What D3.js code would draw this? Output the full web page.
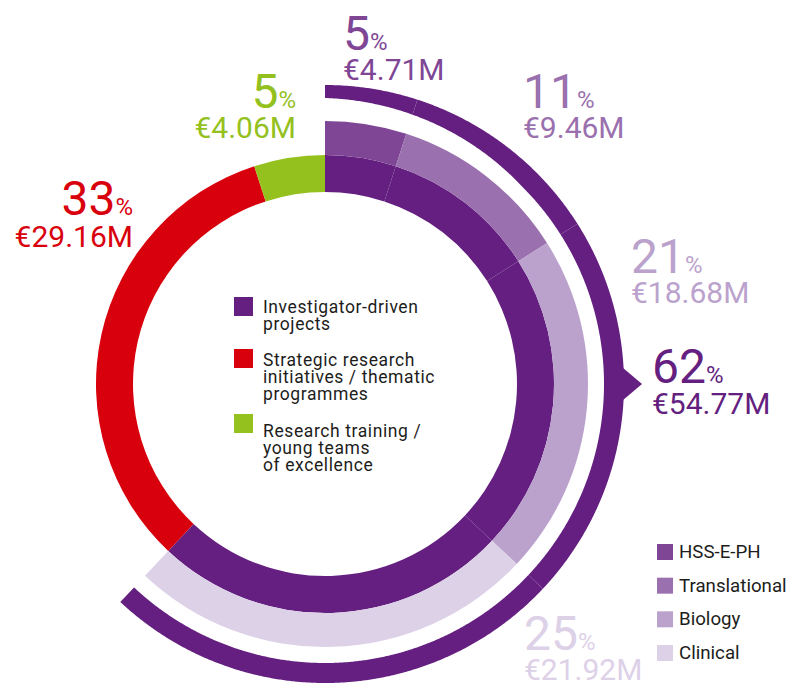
<!DOCTYPE html>
<html>
<head>
<meta charset="utf-8">
<script src="https://cdn.jsdelivr.net/npm/d3@7"></script>
<style>
  html, body { margin: 0; padding: 0; background: #fff; }
  svg { display: block; font-family: Roboto, "Noto Sans", sans-serif; }
</style>
</head>
<body>
<svg id="chart" width="787" height="684"></svg>
<script>
// ---------- DATA ----------
const categories = [
  ["Investigator-driven", "projects"],
  ["Strategic research", "initiatives / thematic", "programmes"],
  ["Research training /", "young teams", "of excellence"]
];
const categoryShares = [62, 33, 5];            // % of total
const categoryFunding = [54.77, 29.16, 4.06];  // € millions

const subcategories = ["HSS-E-PH", "Translational", "Biology", "Clinical"];
const subShares = [5, 11, 21, 25];             // % of total (within investigator-driven)
const subFunding = [4.71, 9.46, 18.68, 21.92]; // € millions

// ---------- STYLE / LAYOUT ----------
const catColors = ["#641f80", "#d9000d", "#95c11f"];
const subColors = ["#7e4695", "#9a70ae", "#bba2cd", "#ddd1e8"];
const cx = 325, cy = 384;
const R = { inIn: 192, inOut: 229, subOut: 263, outerOut: 299, outerIn: 279, outerInTop: 286 };

// label placement (number baseline, money baseline)
const subLabelPos = [
  { x: 343, y: 50, my: 80, anchor: "start" },
  { x: 523, y: 108, my: 138, anchor: "start" },
  { x: 631, y: 273, my: 303, anchor: "start" },
  { x: 524, y: 650, my: 680, anchor: "start" }
];
const catLabelPos = [
  { x: 652, y: 383, my: 414, anchor: "start" },
  { x: 133, y: 215, my: 247, anchor: "end" },
  { x: 296, y: 108, my: 138, anchor: "end" }
];

const svg = d3.select("#chart");
const g = svg.append("g").attr("transform", `translate(${cx},${cy})`);

const angle = d3.scaleLinear().domain([0, 100]).range([0, 2 * Math.PI]);

const mainPie = d3.pie().sort(null).value(d => d)
  .startAngle(0).endAngle(angle(d3.sum(categoryShares)));
const mainArcs = mainPie(categoryShares);

const subPie = d3.pie().sort(null).value(d => d)
  .startAngle(0).endAngle(angle(d3.sum(subShares)));
const subArcs = subPie(subShares);

// inner ring: investigator-driven drawn as sub-segments, others as single slices
const innerArc = d3.arc().innerRadius(R.inIn).outerRadius(R.inOut);
g.selectAll("path.inner-sub").data(subArcs).join("path")
  .attr("class", "inner-sub")
  .attr("d", innerArc)
  .attr("fill", catColors[0]);
g.selectAll("path.inner-cat").data(mainArcs.slice(1)).join("path")
  .attr("class", "inner-cat")
  .attr("d", innerArc)
  .attr("fill", (d, i) => catColors[i + 1]);

// second ring: subcategories
const subArc = d3.arc().innerRadius(R.inOut).outerRadius(R.subOut);
g.selectAll("path.sub").data(subArcs).join("path")
  .attr("class", "sub")
  .attr("d", subArc)
  .attr("fill", (d, i) => subColors[i]);

// outer ring (investigator-driven total) - tapered at start
const taper = angle(12.5);
const innerR = a => R.outerIn + (R.outerInTop - R.outerIn) * Math.max(0, 1 - a / taper);
const radial = d3.areaRadial()
  .angle(d => d)
  .innerRadius(d => innerR(d))
  .outerRadius(R.outerOut);
const samples = (a0, a1) => {
  const n = Math.max(2, Math.ceil((a1 - a0) / 0.005));
  return d3.range(n + 1).map(i => a0 + (a1 - a0) * i / n);
};
g.selectAll("path.outer").data(subArcs).join("path")
  .attr("class", "outer")
  .attr("d", d => radial(samples(d.startAngle, d.endAngle)))
  .attr("fill", catColors[0]);

// pointer on outer ring toward the 62% label
const pA = Math.PI / 2;
const halfW = Math.asin(18.5 / R.outerOut);
const pointer = [
  d3.pointRadial(pA - halfW, R.outerOut - 3),
  d3.pointRadial(pA, R.outerOut + 18),
  d3.pointRadial(pA + halfW, R.outerOut - 3)
];
g.append("path").attr("d", d3.line()(pointer) + "Z").attr("fill", catColors[0]);

// ---------- LABELS ----------
const money = v => "€" + d3.format(".2f")(v) + "M";
function addLabel(pos, share, value, color) {
  const t = svg.append("text")
    .attr("x", pos.x).attr("y", pos.y)
    .attr("text-anchor", pos.anchor)
    .attr("fill", color);
  t.append("tspan").attr("font-size", 48).text(share);
  t.append("tspan").attr("font-size", 24).text("%");
  svg.append("text")
    .attr("x", pos.x).attr("y", pos.my)
    .attr("text-anchor", pos.anchor)
    .attr("font-size", 30)
    .attr("fill", color)
    .text(money(value));
}
subShares.forEach((s, i) => addLabel(subLabelPos[i], s, subFunding[i], subColors[i]));
categoryShares.forEach((s, i) => addLabel(catLabelPos[i], s, categoryFunding[i], catColors[i]));

// ---------- CENTER LEGEND ----------
const catLegendTop = [297, 349, 414];
const catLegendBase = [313, 366, 437];
categories.forEach((lines, i) => {
  svg.append("rect")
    .attr("x", 234).attr("y", catLegendTop[i])
    .attr("width", 19).attr("height", 19)
    .attr("fill", catColors[i]);
  const t = svg.append("text")
    .attr("x", 263).attr("y", catLegendBase[i])
    .attr("font-size", 17.5).attr("letter-spacing", 0.6)
    .attr("fill", "#1d1d1b");
  lines.forEach((ln, j) => {
    t.append("tspan").attr("x", 263).attr("dy", j === 0 ? 0 : 16.8).text(ln);
  });
});

// ---------- RIGHT LEGEND ----------
const legY = d3.scalePoint().domain(subcategories).range([558, 659]);
subcategories.forEach((name, i) => {
  svg.append("rect")
    .attr("x", 657).attr("y", legY(name) - 14)
    .attr("width", 16).attr("height", 16)
    .attr("fill", subColors[i]);
  svg.append("text")
    .attr("x", 679).attr("y", legY(name))
    .attr("font-size", 18.7).attr("fill", "#1d1d1b")
    .text(name);
});
</script>
</body>
</html>
